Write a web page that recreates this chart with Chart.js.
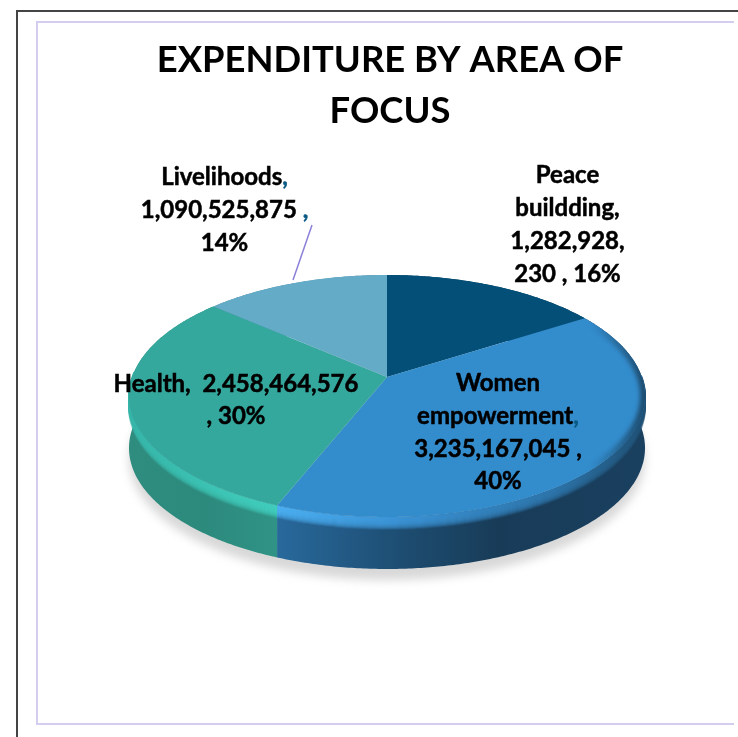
<!DOCTYPE html>
<html>
<head>
<meta charset="utf-8">
<title>Expenditure by area of focus</title>
<script src="https://cdn.jsdelivr.net/npm/chart.js@4"></script>
<style>
	html, body { margin: 0; padding: 0; background: #fff; }
	body { width: 738px; height: 737px; position: relative; overflow: hidden; }
	#outer { position: absolute; left: 16px; top: 10px; width: 722px; height: 727px; border-top: 2px solid #444; border-left: 2px solid #444; box-sizing: border-box; }
	#inner { position: absolute; left: 36px; top: 21px; width: 698px; height: 704px; border: 2px solid #d4cdf0; border-right: none; box-sizing: border-box; }
	canvas { position: absolute; left: 0; top: 0; }
</style>
</head>
<body>
<div id="outer"></div>
<div id="inner"></div>
<canvas id="chart" width="738" height="737"></canvas>
<script>
// ----------------- DATA -----------------
const categories = ['Peace buildding', 'Women empowerment', 'Health', 'Livelihoods'];
const amounts = [1282928230, 3235167045, 2458464576, 1090525875];
const titleLines = ['EXPENDITURE BY AREA OF', 'FOCUS'];

// label lines: [text, trailing comma in slice colour]
const labelLines = [
	{ x: 567.5, y: [175, 208, 241, 274], lines: [['Peace'], ['buildding,'], ['1,282,928,'], ['230 , 16%']] },
	{ x: 498, y: [383, 416, 449, 481], lines: [['Women'], ['empowerment', ','], ['3,235,167,045 ,'], ['40%']] },
	{ x: 236, y: [384, 416], lines: [['Health,  2,458,464,576'], [', 30%']] },
	{ x: 224.5, y: [177, 210, 243], lines: [['Livelihoods', ','], ['1,090,525,875 ', ','], ['14%']] }
];

// ----------------- COLOURS -----------------
const faceColors = ['#034f78', '#338ccc', '#35a89e', '#64abc7'];
const commaColor = '#0b5a85';
const sideStops = [
	[[0, '#034060'], [1, '#034060']],
	[[0, '#28699c'], [0.35, '#1d4c70'], [0.6, '#183c58'], [1, '#1a4060']],
	[[0, '#2f8d80'], [0.5, '#2c8a7d'], [1, '#2f9385']],
	[[0, '#4f8ea8'], [1, '#4f8ea8']]
];
const bevelStops = [
	[[0, '#034f78'], [1, '#034f78']],
	[[0, '#4aaef0'], [0.33, '#3a92d4'], [0.75, '#2c74aa'], [1, '#1f5074']],
	[[0, '#35b5a8'], [0.6, '#3cc4b4'], [1, '#40cdbd']],
	[[0, '#64abc7'], [1, '#64abc7']]
];

// ----------------- TILTED PIE GEOMETRY -----------------
const PIE = { cx: 387, cy: 377, a: 254.8, b: 118, k: -0.157, depth: 52 };

function project(angle) {
	const x = Math.cos(angle), y = Math.sin(angle);
	const d = 1 + PIE.k * y;
	return [PIE.cx + PIE.a * x / d, PIE.cy + PIE.b * y / d];
}

function rimPoints(start, end) {
	const pts = [];
	const steps = Math.max(2, Math.ceil((end - start) / 0.01));
	for (let i = 0; i <= steps; i++) pts.push(project(start + (end - start) * i / steps));
	return pts;
}

function hGradient(ctx, pts, stops) {
	const xs = pts.map(p => p[0]);
	const g = ctx.createLinearGradient(Math.min(...xs), 0, Math.max(...xs), 0);
	stops.forEach(s => g.addColorStop(s[0], s[1]));
	return g;
}

function facePath(ctx, arc) {
	ctx.beginPath();
	ctx.moveTo(PIE.cx, PIE.cy);
	rimPoints(arc.startAngle, arc.endAngle).forEach(p => ctx.lineTo(p[0], p[1]));
	ctx.closePath();
}

// draws the slices from the angles the pie controller worked out
const tiltedPie = {
	id: 'tiltedPie',
	beforeDatasetDraw(chart, args) {
		const ctx = chart.ctx;
		const arcs = args.meta.data;
		ctx.save();

		// soft shadow under the disc
		const ground = rimPoints(0, Math.PI * 2);
		ctx.filter = 'blur(5px)';
		ctx.fillStyle = '#d8d8d8';
		ctx.beginPath();
		ground.forEach(p => ctx.lineTo(p[0], p[1] + PIE.depth + 11));
		ctx.closePath();
		ctx.fill();
		ctx.filter = 'none';

		// side wall
		arcs.forEach((arc, i) => {
			const pts = rimPoints(arc.startAngle, arc.endAngle);
			ctx.fillStyle = hGradient(ctx, pts, sideStops[i]);
			ctx.beginPath();
			pts.forEach(p => ctx.lineTo(p[0], p[1]));
			pts.slice().reverse().forEach(p => ctx.lineTo(p[0], p[1] + PIE.depth));
			ctx.closePath();
			ctx.fill();
		});

		// lit edge between wall and top, front of the disc only
		arcs.forEach((arc, i) => {
			const from = Math.max(arc.startAngle, -0.02);
			const to = Math.min(arc.endAngle, Math.PI + 0.05);
			if (to <= from) return;
			const pts = rimPoints(from, to);
			ctx.strokeStyle = hGradient(ctx, pts, bevelStops[i]);
			ctx.lineWidth = 2;
			for (let d = 12; d >= 1; d--) {
				ctx.globalAlpha = 1 - Math.pow(d / 13, 2);
				ctx.beginPath();
				pts.forEach(p => ctx.lineTo(p[0], p[1] + d));
				ctx.stroke();
			}
		});
		ctx.globalAlpha = 1;

		// top face
		arcs.forEach((arc, i) => {
			ctx.fillStyle = faceColors[i];
			facePath(ctx, arc);
			ctx.fill();
		});

		// top face falls into shade at the far right edge
		ctx.save();
		facePath(ctx, arcs[1]);
		ctx.clip();
		const shade = ctx.createLinearGradient(590, 0, 648, 0);
		shade.addColorStop(0, 'rgba(24,60,88,0)');
		shade.addColorStop(1, 'rgba(24,60,88,0.85)');
		ctx.strokeStyle = shade;
		ctx.lineWidth = 10;
		ctx.filter = 'blur(2px)';
		ctx.beginPath();
		rimPoints(arcs[1].startAngle, arcs[1].endAngle).forEach(p => ctx.lineTo(p[0], p[1]));
		ctx.stroke();
		ctx.restore();

		ctx.restore();
		return false;
	},
	afterDraw(chart) {
		const ctx = chart.ctx;
		ctx.save();

		// leader line for Livelihoods
		ctx.strokeStyle = '#8a80d8';
		ctx.lineWidth = 1.5;
		ctx.beginPath();
		ctx.moveTo(312, 225);
		ctx.lineTo(293, 280);
		ctx.stroke();

		ctx.font = 'bold 24px Lato';
		ctx.textBaseline = 'middle';
		ctx.textAlign = 'left';
		ctx.lineWidth = 0.5;
		labelLines.forEach(lbl => {
			lbl.lines.forEach((line, n) => {
				const text = line[0], comma = line[1] || '';
				const w1 = ctx.measureText(text).width;
				const w2 = ctx.measureText(comma).width;
				const left = lbl.x - (w1 + w2) / 2;
				ctx.fillStyle = ctx.strokeStyle = '#000';
				ctx.fillText(text, left, lbl.y[n]);
				ctx.strokeText(text, left, lbl.y[n]);
				if (comma) {
					ctx.fillStyle = ctx.strokeStyle = commaColor;
					ctx.fillText(comma, left + w1, lbl.y[n]);
					ctx.strokeText(comma, left + w1, lbl.y[n]);
				}
			});
		});
		ctx.restore();
	}
};

// ----------------- CHART -----------------
new Chart(document.getElementById('chart').getContext('2d'), {
	type: 'pie',
	data: {
		labels: categories,
		datasets: [{ data: amounts, backgroundColor: faceColors, borderWidth: 0 }]
	},
	options: {
		responsive: false,
		animation: false,
		devicePixelRatio: 1,
		layout: { padding: { left: 42 } },
		plugins: {
			legend: { display: false },
			tooltip: { enabled: false },
			title: {
				display: true,
				fullSize: false,
				text: titleLines,
				color: '#000',
				font: { family: 'Lato', size: 36.4, weight: 'bold', lineHeight: 1.4 },
				padding: { top: 35, bottom: 0 }
			}
		}
	},
	plugins: [tiltedPie]
});
</script>
</body>
</html>
